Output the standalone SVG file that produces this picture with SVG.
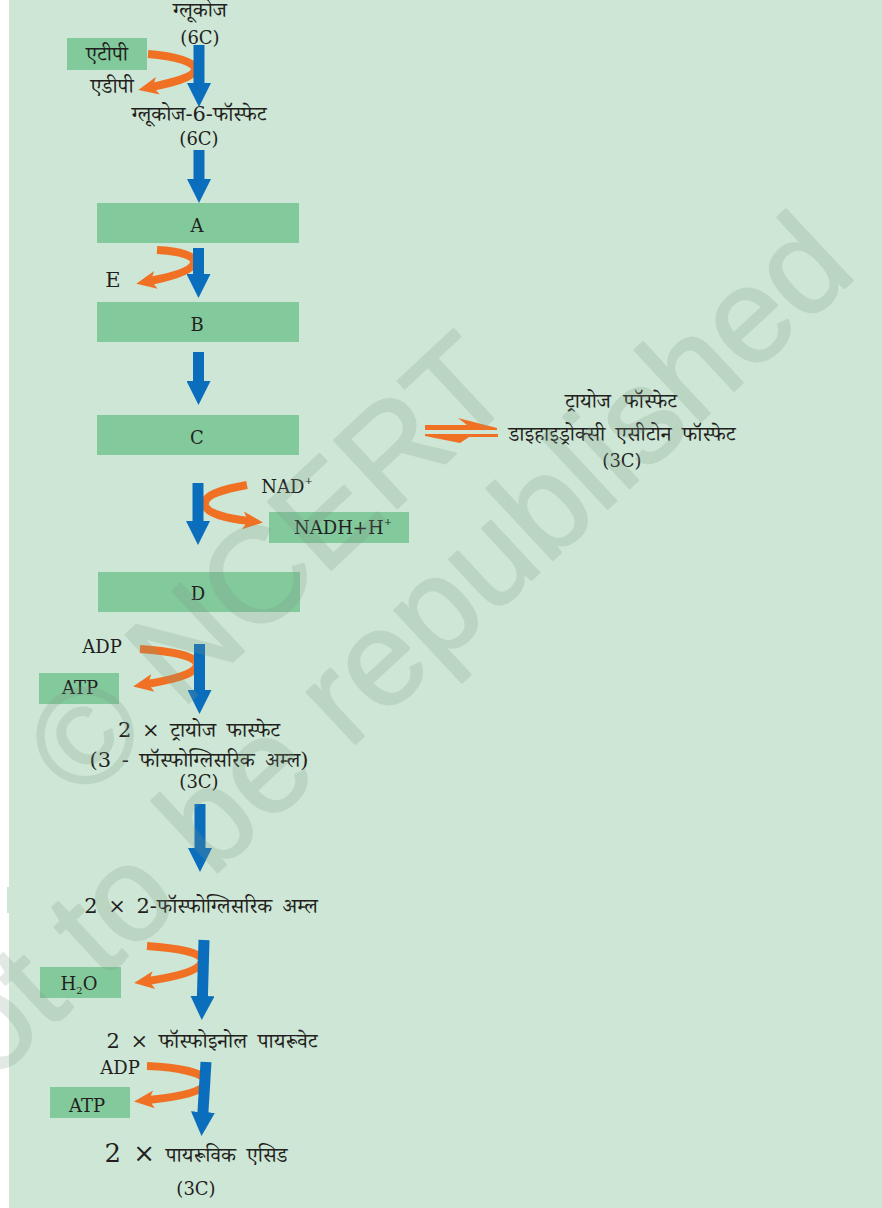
<svg xmlns="http://www.w3.org/2000/svg" width="882" height="1208" viewBox="0 0 882 1208">
<defs>
<style>
.bg{fill:#cde6d5}
.box{fill:#82c99c}
.t{font-family:"DejaVu Serif","Noto Serif Devanagari","Noto Sans Devanagari","Lohit Devanagari",serif;font-size:21px;fill:#231f20;text-anchor:middle}
.l{font-family:"DejaVu Serif","Liberation Serif",serif;font-size:18px;fill:#231f20;text-anchor:middle}
.sup{font-size:10px}
.blue{stroke:#0a6ebd;stroke-width:11;fill:none;marker-end:url(#bh)}
.or{stroke:#f07124;stroke-width:8;fill:none;stroke-linecap:butt;marker-end:url(#oh)}
.harp{fill:#f07124}
.wm{font-family:"Liberation Sans",sans-serif;font-size:135px;fill:#7f9a88;stroke:#7f9a88;stroke-width:2;stroke-linejoin:round;text-anchor:middle}
</style>
<marker id="bh" viewBox="0 -12 24 24" markerWidth="24" markerHeight="24" refX="1" refY="0" orient="auto" markerUnits="userSpaceOnUse">
<path d="M0,-12 L24,0 L0,12 Z" fill="#0a6ebd"/>
</marker>
<marker id="oh" viewBox="0 -10 21 20" markerWidth="21" markerHeight="20" refX="6" refY="0" orient="auto" markerUnits="userSpaceOnUse">
<path d="M0,-9 L20,0 L0,9 L5,0 Z" fill="#f07124"/>
</marker>
</defs>
<rect x="0" y="0" width="882" height="1208" fill="#ffffff"/>
<rect class="bg" x="9" y="0" width="873" height="1208"/>
<rect class="bg" x="7" y="887" width="3" height="26"/>

<g id="glucose">
<text class="t" x="200" y="17">ग्लूकोज</text>
<text class="l" x="200" y="44">(6C)</text>
</g>
<g id="atp1"><rect class="box" x="67" y="38" width="80" height="32"/><text class="t" x="107" y="61">एटीपी</text></g>
<g id="adp1"><text class="t" x="112" y="93">एडीपी</text></g>
<g id="g6p">
<text class="t" x="199" y="121">ग्लूकोज-6-फॉस्फेट</text>
<text class="l" x="199" y="145">(6C)</text>
</g>
<g id="A"><rect class="box" x="97" y="203" width="202" height="40"/><text class="l" x="197" y="232">A</text></g>
<g id="E"><text class="l" x="113" y="287" style="font-size:21px">E</text></g>
<g id="B"><rect class="box" x="97" y="302" width="202" height="40"/><text class="l" x="197" y="331">B</text></g>
<g id="C"><rect class="box" x="97" y="415" width="202" height="40"/><text class="l" x="197" y="444">C</text></g>
<g id="triose">
<text class="t" x="621" y="408" word-spacing="6">ट्रायोज फॉस्फेट</text>
<text class="t" x="622" y="441" word-spacing="4">डाइहाइड्रोक्सी एसीटोन फॉस्फेट</text>
<text class="l" x="622" y="467">(3C)</text>
</g>
<g id="nad"><text class="l" x="287" y="493">NAD<tspan class="sup" dy="-9">+</tspan></text></g>
<g id="nadh"><rect class="box" x="269" y="512" width="140" height="31"/><text class="l" x="343" y="534">NADH+H<tspan class="sup" dy="-9">+</tspan></text></g>
<g id="D"><rect class="box" x="98" y="572" width="202" height="40"/><text class="l" x="198" y="600">D</text></g>
<g id="adp2"><text class="l" x="102" y="653">ADP</text></g>
<g id="atp2"><rect class="box" x="39" y="673" width="80" height="31"/><text class="l" x="80" y="694">ATP</text></g>
<g id="pga3">
<text class="t" x="199" y="737" word-spacing="4">2 × ट्रायोज फास्फेट</text>
<text class="t" x="199" y="767" word-spacing="4">(3 - फॉस्फोग्लिसरिक अम्ल)</text>
<text class="l" x="199" y="788">(3C)</text>
</g>
<g id="pga2"><text class="t" x="201" y="913" word-spacing="4">2 × 2-फॉस्फोग्लिसरिक अम्ल</text></g>
<g id="h2o"><rect class="box" x="40" y="967" width="81" height="31"/><text class="l" x="79" y="990">H<tspan class="sup" dy="4">2</tspan><tspan dy="-4">O</tspan></text></g>
<g id="pep"><text class="t" x="212" y="1048" word-spacing="4">2 × फॉस्फोइनोल पायरूवेट</text></g>
<g id="adp3"><text class="l" x="120" y="1074">ADP</text></g>
<g id="atp3"><rect class="box" x="50" y="1087" width="80" height="31"/><text class="l" x="87" y="1112">ATP</text></g>
<g id="pyruvate">
<text class="t" x="196" y="1162" word-spacing="4"><tspan style="font-size:26px">2 ×</tspan> पायरूविक एसिड</text>
<text class="l" x="196" y="1195">(3C)</text>
</g>

<g id="connectors">
<path class="or" d="M148,54 C175,56 196,62 195,70 C193,78 170,83 152,87"/>
<path class="or" d="M157,250 C180,251 196,256 194,263 C192,271 170,277 150,281"/>
<path class="or" d="M247,485 C225,489 203,494 205,505 C207,514 230,519 249,521"/>
<path class="or" d="M140,649 C170,651 198,656 197,665 C195,675 170,680 147,684"/>
<path class="or" d="M147,946 C175,948 203,952 202,961 C200,971 175,977 148,981"/>
<path class="or" d="M147,1066 C177,1067 207,1073 206,1082 C204,1092 178,1097 148,1100"/>
<path class="harp" d="M425,425 L467,425 L458,418 L497,428 L497,430 L425,430 Z"/>
<path class="harp" d="M498,434 L498,437 L469,437 L460,443 L425,436 L425,434 Z"/>
<line class="blue" x1="199" y1="45" x2="199" y2="84"/>
<line class="blue" x1="199" y1="150" x2="199" y2="180"/>
<line class="blue" x1="198.5" y1="248" x2="198.5" y2="275"/>
<line class="blue" x1="198.5" y1="352" x2="198.5" y2="382"/>
<line class="blue" x1="198" y1="483" x2="198" y2="522"/>
<line class="blue" x1="199.5" y1="644" x2="199.5" y2="691"/>
<line class="blue" x1="200" y1="804" x2="200" y2="849"/>
<line class="blue" x1="204" y1="940" x2="202.4" y2="997"/>
<line class="blue" x1="206" y1="1062" x2="202.9" y2="1113"/>
</g>

<g id="watermark" opacity="0.22" transform="translate(267,564) rotate(-43)">
<text class="wm" x="0" y="48">© NCERT</text>
<text class="wm" x="0" y="192">not to be republished</text>
</g>
</svg>
